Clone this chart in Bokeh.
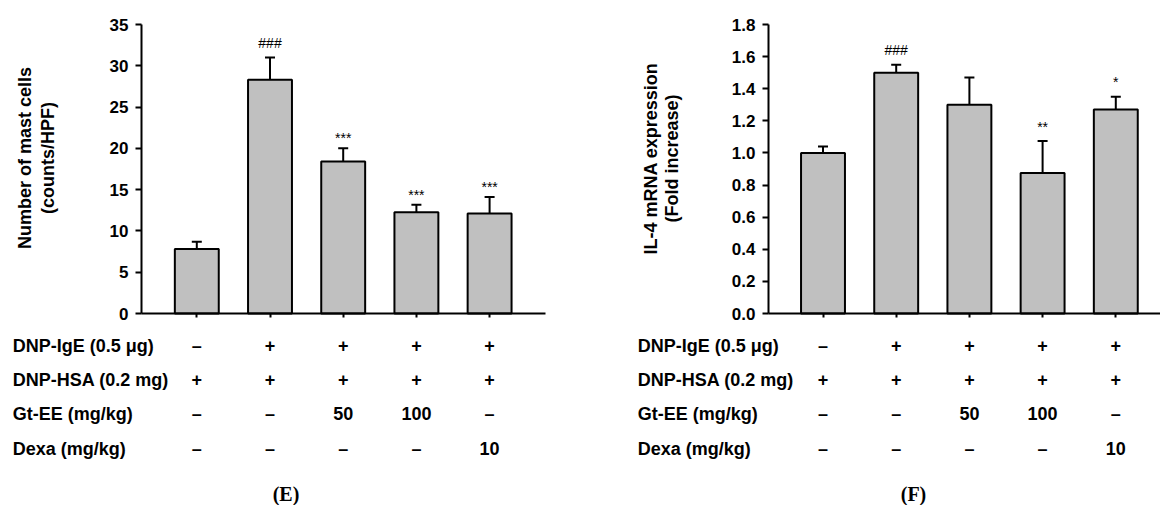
import math

from bokeh.core.properties import value
from bokeh.embed import file_html
from bokeh.layouts import row
from bokeh.models import ColumnDataSource, FixedTicker, Range1d, TeeHead, Whisker
from bokeh.plotting import figure
from bokeh.resources import INLINE

# Treatment table shown under both panels
row_labels = ["DNP-IgE (0.5 μg)", "DNP-HSA (0.2 mg)", "Gt-EE (mg/kg)", "Dexa (mg/kg)"]
dnp_ige = ["–", "+", "+", "+", "+"]
dnp_hsa = ["+", "+", "+", "+", "+"]
gt_ee = ["–", "–", "50", "100", "–"]
dexa = ["–", "–", "–", "–", "10"]

# Panel E: mast cell counts (mean, SEM)
mast_cells = [7.8, 28.3, 18.4, 12.25, 12.1]
mast_sem = [0.9, 2.7, 1.6, 0.93, 2.0]
mast_sig = ["", "###", "***", "***", "***"]
mast_ticks = [0, 5, 10, 15, 20, 25, 30, 35]
mast_tick_labels = ["0", "5", "10", "15", "20", "25", "30", "35"]

# Panel F: IL-4 mRNA expression (fold increase, SEM)
il4 = [1.00, 1.50, 1.30, 0.875, 1.27]
il4_sem = [0.04, 0.05, 0.17, 0.20, 0.08]
il4_sig = ["", "###", "", "**", "*"]
il4_ticks = [0.0, 0.2, 0.4, 0.6, 0.8, 1.0, 1.2, 1.4, 1.6, 1.8]
il4_tick_labels = ["0.0", "0.2", "0.4", "0.6", "0.8", "1.0", "1.2", "1.4", "1.6", "1.8"]

SANS = "Liberation Sans"
SERIF = "Liberation Serif"
W, H = 580, 505
AXIS_TOP, AXIS_BOTTOM = 24, 313      # pixel rows of y = max and y = 0
PX_PER_GROUP = 73.2
ROW_Y = [345, 379, 413, 448]         # pixel rows of the treatment table
TEXT_SIZE = "18px"


def panel(values, errs, sig, sig_gap, y_max, ticks, tick_labels, ylabel_lines,
          axis_left, axis_right, first_center, ylabel_x, ylabel_y,
          heading_x, tag, tag_x):
    ppu_y = (AXIS_BOTTOM - AXIS_TOP) / y_max
    x_at_axis = -(first_center - axis_left) / PX_PER_GROUP

    def dx(px):
        return x_at_axis + (px - axis_left) / PX_PER_GROUP

    def dy(py):
        return (AXIS_BOTTOM - py) / ppu_y

    # the frame spans the whole canvas; axes are pinned inside it
    p = figure(width=W, height=H, x_range=Range1d(dx(0), dx(W)), y_range=Range1d(dy(H), dy(0)),
               min_border=0, output_backend="svg", toolbar_location=None, tools="")
    p.outline_line_color = None
    p.xgrid.visible = False
    p.ygrid.visible = False
    p.background_fill_color = "white"
    p.border_fill_color = "white"

    xs = list(range(len(values)))
    src = ColumnDataSource(dict(
        x=xs, top=values, upper=[v + e for v, e in zip(values, errs)],
        sig=sig, sig_y=[v + e + g / ppu_y for v, e, g in zip(values, errs, sig_gap)],
    ))

    p.vbar(x="x", top="top", bottom=0, width=0.6, source=src,
           fill_color="#c0c0c0", line_color="black", line_width=2)
    p.add_layout(Whisker(source=src, base="x", lower="top", upper="upper",
                         dimension="height", line_color="black", line_width=2,
                         lower_head=None,
                         upper_head=TeeHead(size=10, line_color="black", line_width=2)))
    p.text(x="x", y="sig_y", text="sig", source=src, text_font=value(SANS),
           text_font_size="14px", text_align="center", text_baseline="middle",
           text_color="black")

    # axes
    xa = p.xaxis[0]
    xa.fixed_location = 0
    xa.bounds = (dx(axis_left), dx(axis_right))
    xa.ticker = FixedTicker(ticks=xs)
    xa.major_label_overrides = {i: "" for i in xs}
    xa.axis_line_width = 2
    xa.major_tick_line_width = 2
    xa.major_tick_in = 0
    xa.major_tick_out = 4
    xa.minor_tick_line_color = None

    ya = p.yaxis[0]
    ya.fixed_location = dx(axis_left)
    ya.bounds = (0, y_max)
    ya.ticker = FixedTicker(ticks=ticks)
    ya.major_label_overrides = {t: lab for t, lab in zip(ticks, tick_labels)}
    ya.axis_line_width = 2
    ya.major_tick_line_width = 2
    ya.major_tick_in = 0
    ya.major_tick_out = 6
    ya.minor_tick_line_color = None
    ya.major_label_standoff = 7
    ya.major_label_text_font = SANS
    ya.major_label_text_font_size = "17px"
    ya.major_label_text_font_style = "bold"
    ya.major_label_text_color = "black"

    # y-axis title, two stacked rotated lines
    p.text(x=[dx(lx) for lx in ylabel_x], y=[dy(ylabel_y)] * len(ylabel_lines),
           text=ylabel_lines, angle=math.pi / 2, text_font=value(SANS),
           text_font_size=TEXT_SIZE, text_font_style="bold", text_align="center",
           text_baseline="middle", text_color="black")

    # treatment table
    table = [dnp_ige, dnp_hsa, gt_ee, dexa]
    p.text(x=[dx(heading_x)] * len(row_labels), y=[dy(ry) for ry in ROW_Y],
           text=row_labels, text_font=value(SANS), text_font_size=TEXT_SIZE,
           text_font_style="bold", text_align="left", text_baseline="middle",
           text_color="black")
    cx, cy, ct = [], [], []
    for r, cells in enumerate(table):
        for i, cell in enumerate(cells):
            cx.append(i)
            cy.append(dy(ROW_Y[r]))
            ct.append(cell)
    p.text(x=cx, y=cy, text=ct, text_font=value(SANS), text_font_size=TEXT_SIZE,
           text_font_style="bold", text_align="center", text_baseline="middle",
           text_color="black")

    p.text(x=[dx(tag_x)], y=[dy(493)], text=[tag], text_font=value(SERIF),
           text_font_size="20px", text_font_style="bold", text_align="center",
           text_baseline="middle", text_color="black")
    return p


left = panel(mast_cells, mast_sem, mast_sig, [15, 15, 10, 10, 10], 35,
             mast_ticks, mast_tick_labels, ["Number of mast cells", "(counts/HPF)"],
             axis_left=141, axis_right=545, first_center=196.3,
             ylabel_x=[24, 47], ylabel_y=157.5, heading_x=12.3, tag="(E)", tag_x=285.5)

right = panel(il4, il4_sem, il4_sig, [15, 15, 14, 14, 15], 1.8,
              il4_ticks, il4_tick_labels, ["IL-4 mRNA expression", "(Fold increase)"],
              axis_left=188, axis_right=592, first_center=242.5,
              ylabel_x=[70, 91.7], ylabel_y=158, heading_x=57.3, tag="(F)", tag_x=333)

layout = row(left, right)
open("out.html", "w").write(file_html(layout, INLINE))
